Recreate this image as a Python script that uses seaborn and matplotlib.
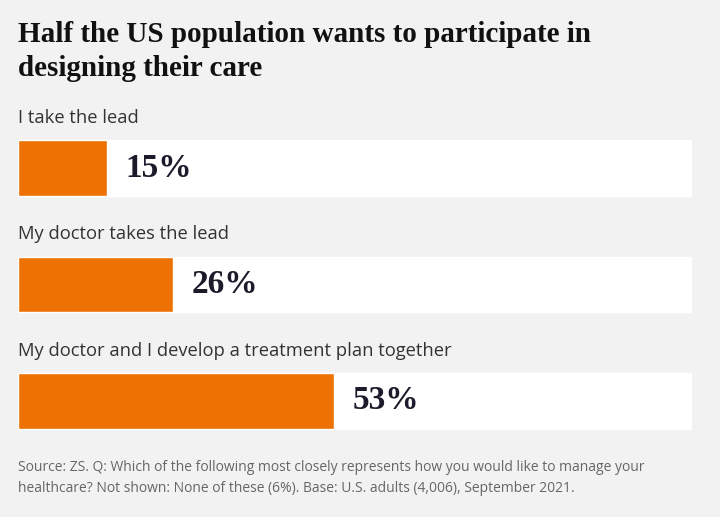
import matplotlib
matplotlib.use("Agg")
import matplotlib.pyplot as plt
import seaborn as sns
import pandas as pd

# ─────────────────────────────────────────
# DATA
# ─────────────────────────────────────────
categories = [
    "I take the lead",
    "My doctor takes the lead",
    "My doctor and I develop a treatment plan together",
]
shares = [15, 26, 53]
valueLabels = ["15%", "26%", "53%"]

title = "Half the US population wants to participate in\ndesigning their care"
footnote = ("Source: ZS. Q: Which of the following most closely represents how you would like to manage your\n"
            "healthcare? Not shown: None of these (6%). Base: U.S. adults (4,006), September 2021.")

# scale of the white track behind each bar
trackMax = 113

# ─────────────────────────────────────────
# STYLE
# ─────────────────────────────────────────
bgColor = "#f3f2f2"
barColor = "#ee7203"
sns.set_theme(style="white")
plt.rcParams["font.family"] = ["Open Sans", "DejaVu Sans"]

df = pd.DataFrame({"category": categories, "share": shares, "label": valueLabels})
df["track"] = trackMax

fig = plt.figure(figsize=(7.2, 5.17), dpi=100)
fig.patch.set_facecolor(bgColor)

ax = fig.add_axes([18 / 720, 58 / 517, 674 / 720, 349 / 517])
ax.set_facecolor(bgColor)

# white track first, orange bar on top
sns.barplot(data=df, x="track", y="category", order=categories,
            color="white", width=0.48, ax=ax, saturation=1)
sns.barplot(data=df, x="share", y="category", order=categories,
            color=barColor, width=0.48, ax=ax, saturation=1)

ax.set_xlim(0, trackMax)
ax.set_ylim(2.5, -0.5)
ax.set_xlabel("")
ax.set_ylabel("")
ax.set_xticks([])
ax.set_yticks([])
sns.despine(ax=ax, left=True, bottom=True)

for i, row in df.iterrows():
    # category name above the bar
    ax.text(0, i - 0.43, row["category"], ha="left", va="center",
            fontsize=13.2, color="#333333")
    # percentage right of the bar
    ax.annotate(row["label"], xy=(row["share"], i), xytext=(13, 0),
                textcoords="offset points", ha="left", va="center",
                fontsize=24, fontweight="bold", color="#1c1b2b",
                family=["Liberation Serif", "DejaVu Serif"])

fig.text(18 / 720, 1 - 21 / 517, title, ha="left", va="top",
         fontsize=21, fontweight="bold", color="#111111",
         family=["Liberation Serif", "DejaVu Serif"], linespacing=1.32)

fig.text(18 / 720, 1 - 478 / 517, footnote, ha="left", va="center",
         fontsize=10, color="#666666", linespacing=1.5)

fig.savefig("out.png", dpi=100, facecolor=bgColor)
plt.close(fig)
